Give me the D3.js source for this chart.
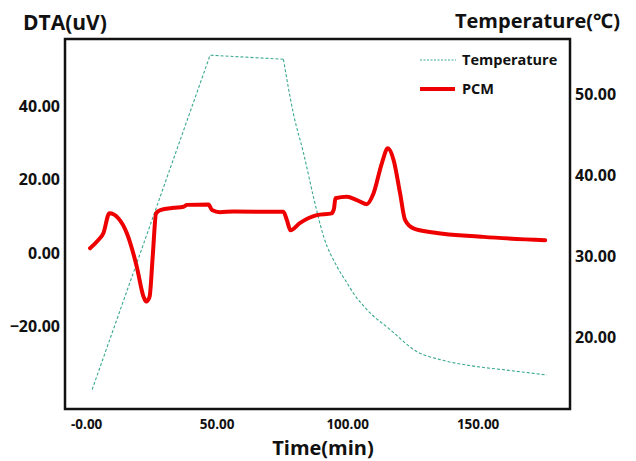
<!DOCTYPE html>
<html>
<head>
    <meta charset="UTF-8">
    <script src="https://cdn.jsdelivr.net/npm/d3@7/dist/d3.min.js"></script>
    <style>
        body { margin: 0; background: #fff; }
        text { font-family: "Open Sans", "Noto Sans", sans-serif; font-weight: bold; fill: #111; }
    </style>
</head>
<body>
<div id="chart"></div>
<script>
    // DTA curve of the PCM sample (time in min, DTA in uV)
    var pcmTime = [1.5, 4.5, 6.6, 8.9, 12.4, 15.6, 19.4, 22, 23, 24.3, 25.5, 26.8, 28.4, 33.5, 37.3, 38.6, 46.9, 48.2, 51.3, 56.4, 75.6, 76.9, 78.3, 82, 88.4, 94.1, 95, 95.5, 99.9, 103.7, 107.5, 110.1, 113.3, 115.6, 117.8, 120.3, 122.2, 125.4, 133.1, 152.2, 175.9];
    var pcmDta  = [1.3, 3.4, 5.4, 10.8, 9.4, 5.4, -3.7, -11.9, -13.2, -11.9, -1, 10.8, 11.7, 12.3, 12.6, 13.1, 13.2, 11.7, 11.1, 11.3, 11.2, 9, 6.2, 8.2, 10.3, 10.8, 12.2, 14.9, 15.3, 14.4, 13.3, 16.2, 24.4, 28.5, 25.3, 16.2, 9, 6.7, 5.6, 4.4, 3.5];

    // furnace temperature (right axis, deg C)
    var tempTime = [2.3, 47.5, 75.6, 79.4, 83.3, 87.1, 91, 96.1, 99.9, 102.4, 107.5, 116.5, 126.7, 135.6, 148.4, 161.2, 176.5];
    var tempVal  = [13.6, 54.9, 54.4, 47.7, 42.8, 37.4, 32.5, 28.8, 26.8, 25.5, 23.5, 21, 18.3, 17.3, 16.5, 16, 15.4];
    var tempCoolStart = 2; // index where cooling (curved part) begins

    var xTicks = [0, 50, 100, 150];
    var yLeftTicks = [-20, 0, 20, 40];
    var yRightTicks = [20, 30, 40, 50];

    var width = 636, height = 461;
    var box = {left: 65, right: 570, top: 39, bottom: 409};

    var svg = d3.select("#chart").append("svg")
        .attr("width", width)
        .attr("height", height);

    var x = d3.scaleLinear().domain([-8.1, 185.4]).range([box.left, box.right]);
    var yL = d3.scaleLinear().domain([-42.4, 58.2]).range([box.bottom, box.top]);
    var yR = d3.scaleLinear().domain([11.2, 56.9]).range([box.bottom, box.top]);

    var fmt = d3.format(".2f");

    // axes, no tick marks, only labels
    var xAxis = svg.append("g")
        .attr("transform", "translate(0," + box.bottom + ")")
        .call(d3.axisBottom(x).tickValues(xTicks).tickSize(0).tickPadding(10)
            .tickFormat(function(d){ return d === 0 ? "-0.00" : fmt(d); }));
    var leftAxis = svg.append("g")
        .attr("transform", "translate(" + box.left + ",0)")
        .call(d3.axisLeft(yL).tickValues(yLeftTicks).tickSize(0).tickPadding(5).tickFormat(fmt));
    var rightAxis = svg.append("g")
        .attr("transform", "translate(" + box.right + ",0)")
        .call(d3.axisRight(yR).tickValues(yRightTicks).tickSize(0).tickPadding(5).tickFormat(fmt));

    [xAxis, leftAxis, rightAxis].forEach(function(a){
        a.select(".domain").remove();
        a.selectAll("text").style("font-size", "16px").attr("font-family", null);
    });
    xAxis.selectAll("text").style("font-size", "13.5px");

    // temperature line: straight heating + hold, smooth cooling
    var tempData = tempTime.map(function(t, i){ return {t: t, v: tempVal[i]}; });
    var tempLine = d3.line()
        .x(function(d){ return x(d.t); })
        .y(function(d){ return yR(d.v); });
    var tempParts = [
        {pts: tempData.slice(0, tempCoolStart + 1), curve: d3.curveLinear},
        {pts: tempData.slice(tempCoolStart), curve: d3.curveMonotoneX}
    ];
    tempParts.forEach(function(p){
        svg.append("path")
            .datum(p.pts)
            .attr("fill", "none")
            .attr("stroke", "#3aa98f")
            .attr("stroke-width", 1.1)
            .attr("stroke-dasharray", "3,2")
            .attr("d", tempLine.curve(p.curve));
    });

    // PCM line
    var pcmData = pcmTime.map(function(t, i){ return {t: t, v: pcmDta[i]}; });
    svg.append("path")
        .datum(pcmData)
        .attr("fill", "none")
        .attr("stroke", "#ee0000")
        .attr("stroke-width", 4)
        .attr("stroke-linejoin", "round")
        .attr("stroke-linecap", "round")
        .attr("d", d3.line()
            .x(function(d){ return x(d.t); })
            .y(function(d){ return yL(d.v); })
            .curve(d3.curveMonotoneX));

    // frame
    svg.append("rect")
        .attr("x", box.left).attr("y", box.top)
        .attr("width", box.right - box.left).attr("height", box.bottom - box.top)
        .attr("fill", "none").attr("stroke", "#111").attr("stroke-width", 2.5);

    // legend
    var leg = svg.append("g");
    leg.append("line").attr("x1", 420).attr("x2", 456).attr("y1", 60).attr("y2", 60)
        .attr("stroke", "#3aa98f").attr("stroke-width", 1).attr("stroke-dasharray", "2,1.5");
    leg.append("text").attr("x", 462).attr("y", 65).style("font-size", "14.5px").text("Temperature");
    leg.append("line").attr("x1", 420).attr("x2", 455).attr("y1", 89).attr("y2", 89)
        .attr("stroke", "#ee0000").attr("stroke-width", 4);
    leg.append("text").attr("x", 462).attr("y", 94).style("font-size", "14.5px").text("PCM");

    // axis titles
    svg.append("text").attr("x", 23).attr("y", 30).style("font-size", "21px").text("DTA(uV)");
    svg.append("text").attr("x", 620).attr("y", 28).attr("text-anchor", "end")
        .style("font-size", "20px").text("Temperature(\u2103)");
    svg.append("text").attr("x", 323).attr("y", 455).attr("text-anchor", "middle")
        .style("font-size", "20px").text("Time(min)");
</script>
</body>
</html>
